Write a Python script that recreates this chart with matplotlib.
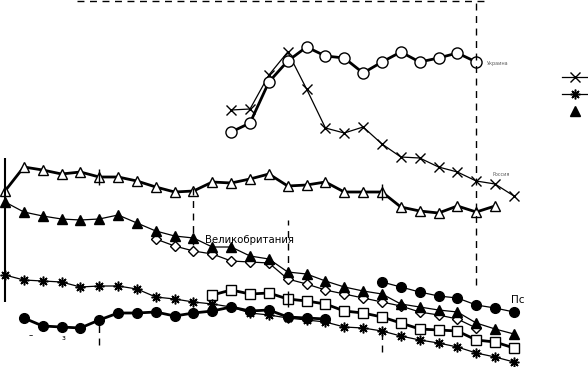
import matplotlib
matplotlib.use("Agg")
import matplotlib.pyplot as plt
from matplotlib.lines import Line2D
import numpy as np

years = np.arange(1980, 2008)

open_tri = [176, 200, 197, 193, 195, 190, 190, 186, 180, 175, 176, 185, 184, 188,
            193, 181, 182, 185, 175, 175, 175, 160, 156, 154, 161, 155, 161]
cross = [257, 258, 292, 315, 278, 239, 234, 240, 223, 210, 209, 200, 195, 186, 183, 171]
ring = [235, 244, 285, 306, 320, 311, 309, 294, 305, 315, 305, 309, 314, 305]
fill_tri = [165, 155, 151, 148, 147, 148, 152, 144, 136, 131, 129, 120, 120, 111,
            108, 95, 93, 86, 80, 76, 73, 63, 60, 57, 55, 44, 38, 33]
diamond = [128, 121, 116, 113, 106, 105, 104, 88, 83, 77, 73, 69, 65, 61, 55, 52, 48, 39]
square = [72, 77, 73, 74, 68, 66, 63, 56, 54, 50, 44, 38, 37, 36, 27, 25, 19]
star = [92, 87, 86, 85, 80, 81, 81, 78, 70, 68, 65, 63, 60, 54, 52, 49, 47, 45,
        40, 39, 36, 31, 27, 24, 20, 14, 10, 5]
dot_low = [49, 41, 40, 39, 47, 54, 54, 55, 51, 54, 56, 60, 56, 57, 50, 49, 48]
dot_up = [85, 80, 75, 71, 69, 62, 59, 55]

fig = plt.figure(figsize=(5.88, 3.67), dpi=100)
ax = fig.add_axes([0, 0, 1, 1])
ax.set_xlim(1980 - 0.265, 1980 + 30.93)
ax.set_ylim(0, 367)
ax.axis("off")

k = "black"
ax.plot(years[:27], open_tri, "-", color=k, lw=2, marker="^", ms=7, mfc="white", mec=k, mew=1)
ax.plot(years[12:28], cross, "-", color=k, lw=0.9, marker="x", ms=6.5, mew=1)
ax.plot(years[12:26], ring, "-", color=k, lw=2, marker="o", ms=8, mfc="white", mec=k, mew=1)
ax.plot(years[8:26], diamond, "-", color=k, lw=0.9, marker="D", ms=5.5, mfc="white", mec=k, mew=1)
ax.plot(years, fill_tri, "-", color=k, lw=0.9, marker="^", ms=7, mfc=k, mec=k)
ax.plot(years[11:28], square, "-", color=k, lw=2, marker="s", ms=7, mfc="white", mec=k, mew=1)
ax.plot(years, star, "-", color=k, lw=0.9, marker=(8, 2, 0), ms=7, mew=1.1)
ax.plot(years[1:18], dot_low, "-", color=k, lw=2, marker="o", ms=7, mfc=k, mec=k)
ax.plot(years[20:28], dot_up, "-", color=k, lw=0.9, marker="o", ms=7, mfc=k, mec=k)

# короткие вертикальные засечки на узловых годах
ax.plot([years[5], years[20]], [open_tri[5], open_tri[20]], "|", color=k, ms=11, mew=1)
ax.plot([years[15]], [square[4]], "|", color=k, ms=11, mew=1)

# сплошная и пунктирные линии
ax.vlines(years[0], 65, 209, color=k, lw=1.5)
dash = dict(color=k, lw=1, linestyles=(0, (5, 4)))
ax.hlines(366, 1980 + 3.82, 1980 + 25.7, **dash)
ax.vlines(years[25], 82, 367, **dash)
ax.vlines(years[10], 122, 182, **dash)
ax.vlines(years[15], 92, 147, **dash)
ax.vlines(years[5], 22, 42, **dash)
ax.vlines(years[20], 15, 32, **dash)

ax.text(years[10] + 0.6, 127, "Великобритания", fontsize=7.3, va="center", ha="left")
ax.text(years[25] + 0.55, 303, "Украина", fontsize=3.5, color="0.35", va="center")
ax.text(years[25] + 0.85, 192, "Россия", fontsize=3.5, color="0.35", va="center")
ax.text(years[27] - 0.15, 67, "Пс", fontsize=7.5, va="center", ha="left")
ax.text(1981.25, 31, "–", fontsize=6, va="center")
ax.text(1983.0, 29, "з", fontsize=5, va="center")

# легенда у правого края (подписи за краем рисунка в оригинале не видны)
handles = [Line2D([], [], color=k, lw=0.9, marker="x", ms=6.5),
           Line2D([], [], color=k, lw=0.9, marker=(8, 2, 0), ms=7, mew=1.1),
           Line2D([], [], color=k, lw=0, marker="^", ms=7, mfc=k)]
ax.legend(handles, ["", "", ""], loc="upper left",
          bbox_to_anchor=(562 / 588, 1 - 72 / 367), frameon=False, fontsize=7,
          handlelength=2.6, handletextpad=0.8, labelspacing=0.75,
          borderpad=0, borderaxespad=0)

fig.savefig("out.png", dpi=100)
